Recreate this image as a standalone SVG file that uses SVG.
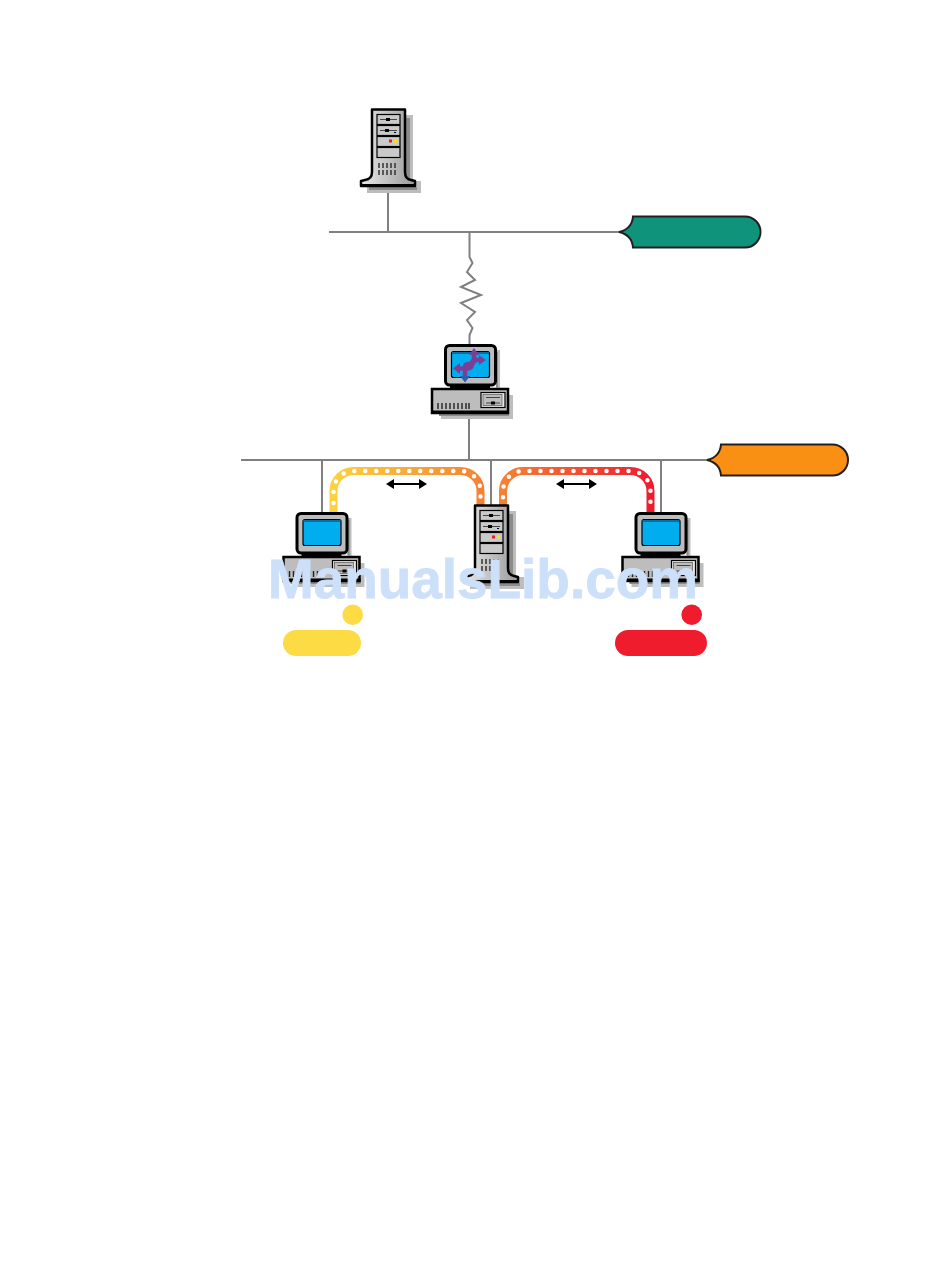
<svg xmlns="http://www.w3.org/2000/svg" xmlns:xlink="http://www.w3.org/1999/xlink" width="950" height="1266" viewBox="0 0 950 1266">
<style>
.wire{fill:none;stroke:#808080;stroke-width:2}
.k{stroke:#000;stroke-width:2.5}
.k3{stroke:#000;stroke-width:3}
.kt{stroke:#000;stroke-width:1.2}
.shadow{fill:#bdbdbd}
.shadow2{fill:#8c8c8c}
.pipe{fill:none;stroke-width:8}
.dots{fill:none;stroke:#fff;stroke-width:4.500;stroke-linecap:round;stroke-dasharray:0 11}
.call{stroke:#231f20;stroke-width:2}
.arrow{fill:none;stroke:#000;stroke-width:2}
.wm{font-family:"Liberation Sans",Arial,sans-serif;font-weight:700;font-size:55px;fill:#cde0fa;stroke:#cde0fa;stroke-width:0.800}
</style>
<defs>
<linearGradient id="gy" gradientUnits="userSpaceOnUse" x1="333" y1="0" x2="481" y2="0"><stop offset="0" stop-color="#fdd23f"/><stop offset="1" stop-color="#f58233"/></linearGradient>
<linearGradient id="gr" gradientUnits="userSpaceOnUse" x1="503" y1="0" x2="651" y2="0"><stop offset="0" stop-color="#f58233"/><stop offset="1" stop-color="#ef1c2e"/></linearGradient>
<linearGradient id="body" x1="0" y1="0" x2="1" y2="0"><stop offset="0" stop-color="#e8e8e8"/><stop offset="1" stop-color="#9a9a9a"/></linearGradient>
<g id="tower">
<path class="shadow" d="M406 115H413V181H421V193H367V187H406Z"/>
<path class="shadow2" d="M406 118H410V181H406ZM369 187H417V190H369Z"/>
<path class="k" fill="url(#body)" stroke-linejoin="round" d="M372 109.500H405V172Q405 179 411 180L415 181V186H361V181L365 180Q372 179 372 172Z"/>
<path d="M361 184H415V187H361Z" fill="#000"/>
<g class="kt" fill="#c9c9c9">
<rect x="377" y="114.500" width="23" height="10"/>
<rect x="377" y="125.500" width="23" height="10"/>
<rect x="377" y="136.500" width="23" height="10"/>
<rect x="377" y="147.500" width="23" height="10"/>
</g>
<path d="M380 119.500H397M380 130.500H397" stroke="#444" stroke-width="1"/>
<rect x="386" y="118" width="4" height="3"/><rect x="385" y="129" width="4" height="3"/><rect x="394" y="132" width="2" height="1"/>
<rect x="389" y="139.500" width="3" height="3" fill="#ed1c24"/><rect x="394" y="139.500" width="3" height="3" fill="#ffe600"/>
<path d="M379 163V168M383 163V168M387 163V168M391 163V168M395 163V168M379 170V175M383 170V175M387 170V175M391 170V175M395 170V175" stroke="#333" stroke-width="1.500"/>
</g>
<g id="pc">
<path class="shadow" d="M496 350H500V389H508V395H513V419H441V413H508V388H496Z"/>
<path class="shadow2" d="M496 352H498V387H496ZM439 413H509V416H439Z"/>
<rect x="450" y="384" width="40" height="5" fill="#000"/>
<rect x="445.500" y="345.500" width="50" height="39.500" rx="4" fill="#bdbdbd" class="k3"/>
<rect x="451.500" y="351.500" width="38" height="26" rx="2" fill="#00aeef" class="kt"/>
<path d="M452 352H489V354H452Z" fill="#0a6f9c"/>
<rect x="432" y="389" width="76" height="24" fill="#bdbdbd" class="k"/>
<path d="M431 410.500H509V414H431Z" fill="#000"/>
<rect x="481" y="392.500" width="24" height="15" fill="#e8e8e8" class="kt"/>
<rect x="483" y="394.500" width="19" height="11" fill="#bdbdbd" stroke="#555" stroke-width="0.700"/>
<path d="M486 397.500H500M486 403H500" stroke="#222" stroke-width="0.800"/><rect x="491" y="401.500" width="4" height="3"/>
<path d="M438 403V409M442 403V409M446 403V409M450 403V409M454 403V409M458 403V409M462 403V409M466 403V409M469 403V409" stroke="#222" stroke-width="1.400"/>
</g>
</defs>
<g id="connectors">
<path class="wire" d="M329 232H625M388 187V232"/>
<path class="wire" d="M469.500 232V257L472.500 263L467 272L475 280L461 287L481 295L461 303L475 312L467 320L472.500 328L469.500 335V345"/>
<path class="wire" d="M469 413V460M241 460H712M322 460V513M491 460V505M661 460V513"/>
<path class="pipe" stroke="url(#gy)" d="M333.500 513V491A20 20 0 0 1 353.500 471H460.500A20 20 0 0 1 480.500 491V505"/>
<path class="pipe" stroke="url(#gr)" d="M503 505V491A20 20 0 0 1 523 471H630.500A20 20 0 0 1 650.500 491V513"/>
<path class="dots" d="M333.500 503V491A20 20 0 0 1 353.500 471H460.500A20 20 0 0 1 480.500 491V498"/>
<path class="dots" d="M503 497.300V491A20 20 0 0 1 523 471H630.500A20 20 0 0 1 650.500 491V502"/>
<path class="arrow" d="M390 484H423M560 484H593"/>
<path d="M386 484L394 479V489ZM427 484L419 479V489ZM556 484L564 479V489ZM597 484L589 479V489Z"/>
</g>
<g id="server-top"><use href="#tower" xlink:href="#tower"/></g>
<g id="router"><use href="#pc" xlink:href="#pc"/>
<path d="M458 368.500H467Q472 368.500 472 364T476 360H480" fill="none" stroke="#7b3f98" stroke-width="4.500"/>
<path d="M479 355L486 360L479 365ZM460 363L453 368.500L460 374Z" fill="#7b3f98"/>
<path d="M474 354V360Q474 364 470 364H468Q465 364 465 368V378" fill="none" stroke="#7b3f98" stroke-width="4.500"/>
<path d="M469 355L474 348L479 355Z" fill="#7b3f98"/>
<path d="M460 376L465 382.500L470 376Z" fill="#2e5fa8"/>
</g>
<g id="pc-left"><use href="#pc" xlink:href="#pc" transform="translate(-148.500 168)"/></g>
<g id="server-mid"><use href="#tower" xlink:href="#tower" transform="translate(103 396)"/></g>
<g id="pc-right"><use href="#pc" xlink:href="#pc" transform="translate(190.500 168)"/></g>
<g id="callout-green"><path class="call" fill="#0f947b" d="M619 232Q632 229 633 216.500H745A15.500 15.500 0 0 1 745 247.500H633Q632 235 619 232Z"/></g>
<g id="callout-orange"><path class="call" fill="#f99014" d="M707 460Q720 457 721 444.500H832.500A15.500 15.500 0 0 1 832.500 475.500H721Q720 463 707 460Z"/></g>
<g id="tag-yellow"><circle cx="352.700" cy="614.700" r="10.300" fill="#fddb45"/><rect x="283" y="630" width="78" height="26" rx="13" fill="#fddb45"/></g>
<g id="tag-red"><circle cx="691.700" cy="614.700" r="10.300" fill="#ef1c2e"/><rect x="615" y="630" width="92" height="26" rx="13" fill="#ef1c2e"/></g>
<text class="wm" x="268" y="598" textLength="430" lengthAdjust="spacingAndGlyphs">ManualsLib.com</text>
</svg>
